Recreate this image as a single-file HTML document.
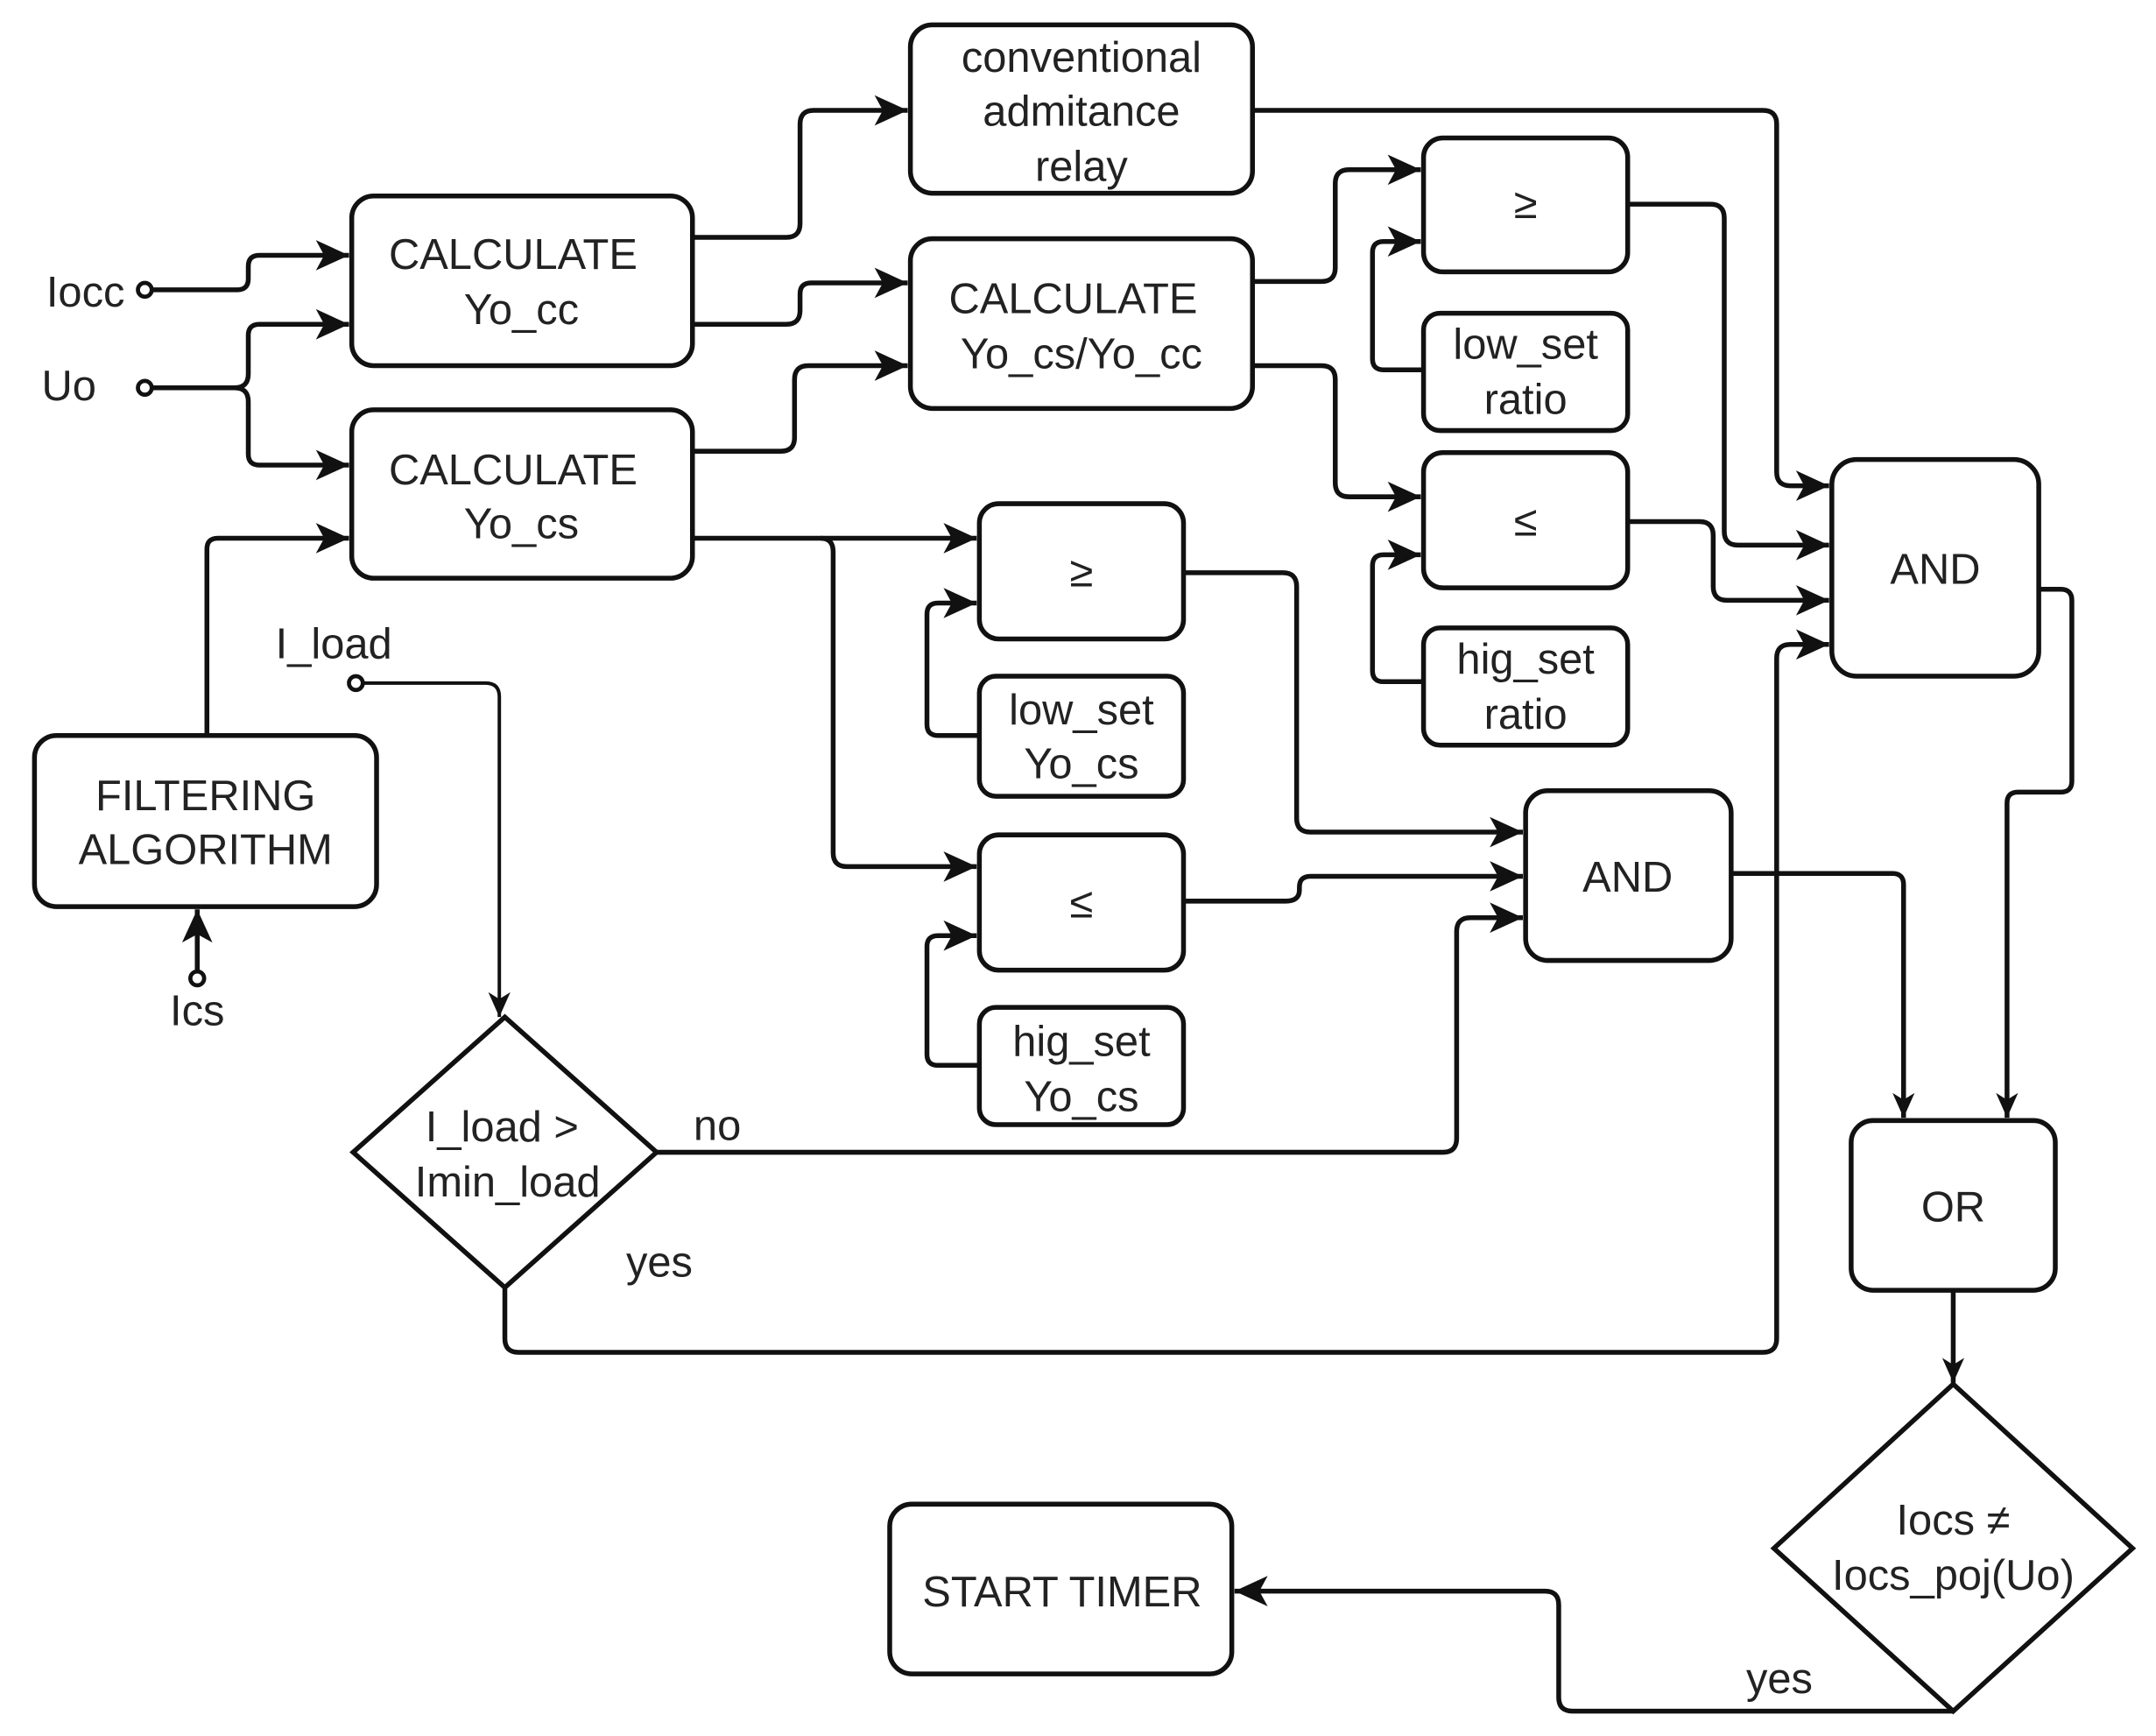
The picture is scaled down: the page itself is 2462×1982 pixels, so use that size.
<!DOCTYPE html>
<html><head><meta charset="utf-8"><style>
html,body{margin:0;padding:0;background:#fff;width:2462px;height:1982px;overflow:hidden}
svg{display:block}
text{font-family:"Liberation Sans",Arial,sans-serif;font-size:31px;fill:#222;text-anchor:middle}
.b{fill:#fff;stroke:#111;stroke-width:3.5}
.l{fill:none;stroke:#111;stroke-width:3.5;stroke-linejoin:round}
.t{fill:none;stroke:#111;stroke-width:2.5}
</style></head><body>
<svg width="2462" height="1982" viewBox="0 0 1563 1258" preserveAspectRatio="none">
<defs>
<marker id="a" markerUnits="userSpaceOnUse" markerWidth="26" markerHeight="24" refX="24" refY="12" orient="auto">
<path d="M0,1 L24,12 L0,23 L6,12 Z" fill="#111"/></marker>
<marker id="s" markerUnits="userSpaceOnUse" markerWidth="20" markerHeight="20" refX="18" refY="10" orient="auto">
<path d="M0,2 L18,10 L0,18 L5,10 Z" fill="#111"/></marker>
</defs>

<!-- boxes -->
<rect class="b" x="660" y="18" width="248" height="122" rx="16"/>
<rect class="b" x="255" y="142" width="247" height="123" rx="16"/>
<rect class="b" x="660" y="173" width="248" height="123" rx="16"/>
<rect class="b" x="255" y="297" width="247" height="122" rx="16"/>
<rect class="b" x="1032" y="100" width="148" height="97" rx="14"/>
<rect class="b" x="1032" y="227" width="148" height="85" rx="12"/>
<rect class="b" x="1032" y="328" width="148" height="98" rx="14"/>
<rect class="b" x="1032" y="455" width="148" height="85" rx="12"/>
<rect class="b" x="1328" y="333" width="150" height="157" rx="18"/>
<rect class="b" x="710" y="365" width="148" height="98" rx="14"/>
<rect class="b" x="710" y="490" width="148" height="87" rx="12"/>
<rect class="b" x="710" y="605" width="148" height="98" rx="14"/>
<rect class="b" x="710" y="730" width="148" height="85" rx="12"/>
<rect class="b" x="1106" y="573" width="149" height="123" rx="16"/>
<rect class="b" x="25" y="533" width="248" height="124" rx="16"/>
<rect class="b" x="1342" y="812" width="148" height="123" rx="16"/>
<rect class="b" x="645" y="1090" width="248" height="123" rx="16"/>
<path class="b" d="M366,737 L476,835 L366,933 L256,835 Z"/>
<path class="b" d="M1416,1003 L1546,1122 L1416,1240 L1286,1122 Z"/>

<!-- texts -->
<text x="784" y="52">conventional</text>
<text x="784" y="91">admitance</text>
<text x="784" y="131">relay</text>
<text x="372" y="195">CALCULATE</text>
<text x="378" y="235">Yo_cc</text>
<text x="778" y="227">CALCULATE</text>
<text x="784" y="267">Yo_cs/Yo_cc</text>
<text x="372" y="351">CALCULATE</text>
<text x="378" y="390">Yo_cs</text>
<text x="1106" y="158">≥</text>
<text x="1106" y="260">low_set</text>
<text x="1106" y="300">ratio</text>
<text x="1106" y="388">≤</text>
<text x="1106" y="488">hig_set</text>
<text x="1106" y="528">ratio</text>
<text x="1403" y="423">AND</text>
<text x="784" y="425">≥</text>
<text x="784" y="525">low_set</text>
<text x="784" y="564">Yo_cs</text>
<text x="784" y="665">≤</text>
<text x="784" y="765">hig_set</text>
<text x="784" y="805">Yo_cs</text>
<text x="1180" y="646">AND</text>
<text x="149" y="587">FILTERING</text>
<text x="149" y="626">ALGORITHM</text>
<text x="1416" y="885">OR</text>
<text x="770" y="1164">START TIMER</text>
<text x="364" y="827">I_load &gt;</text>
<text x="368" y="867">Imin_load</text>
<text x="1416" y="1112">Iocs ≠</text>
<text x="1416" y="1152">Iocs_poj(Uo)</text>
<text x="62" y="222">Iocc</text>
<text x="50" y="290">Uo</text>
<text x="242" y="477">I_load</text>
<text x="143" y="743">Ics</text>
<text x="520" y="826">no</text>
<text x="478" y="925">yes</text>
<text x="1290" y="1227">yes</text>

<!-- connectors -->
<path class="l" marker-end="url(#a)" d="M108,210 H172 Q180,210 180,202 V193 Q180,185 188,185 H253"/>
<path class="l" marker-end="url(#a)" d="M108,281 H170 Q180,281 180,271 V243 Q180,235 188,235 H253"/>
<path class="l" marker-end="url(#a)" d="M170,281 Q180,281 180,291 V329 Q180,337 188,337 H253"/>
<path class="l" marker-end="url(#a)" d="M150,533 V398 Q150,390 158,390 H253"/>
<path class="l" marker-end="url(#a)" d="M143,706 V659"/>
<path class="l" marker-end="url(#a)" d="M502,172 H570 Q580,172 580,162 V90 Q580,80 590,80 H658"/>
<path class="l" marker-end="url(#a)" d="M502,235 H570 Q580,235 580,225 V213 Q580,205 588,205 H658"/>
<path class="l" marker-end="url(#a)" d="M502,327 H566 Q576,327 576,317 V275 Q576,265 586,265 H658"/>
<path class="l" marker-end="url(#a)" d="M502,390 H708"/>
<path class="l" marker-end="url(#a)" d="M595,390 Q604,390 604,400 V618 Q604,628 614,628 H708"/>
<path class="l" marker-end="url(#a)" d="M710,533 H680 Q672,533 672,525 V445 Q672,437 680,437 H708"/>
<path class="l" marker-end="url(#a)" d="M710,772 H680 Q672,772 672,764 V686 Q672,678 680,678 H708"/>
<path class="l" marker-end="url(#a)" d="M858,415 H930 Q940,415 940,425 V593 Q940,603 950,603 H1104"/>
<path class="l" marker-end="url(#a)" d="M858,653 H932 Q942,653 942,645 V643 Q942,635 950,635 H1104"/>
<path class="l" marker-end="url(#a)" d="M476,835 H1046 Q1056,835 1056,825 V675 Q1056,665 1066,665 H1104"/>
<path class="l" marker-end="url(#a)" d="M908,80 H1278 Q1288,80 1288,90 V342 Q1288,352 1298,352 H1326"/>
<path class="l" marker-end="url(#a)" d="M908,204 H958 Q968,204 968,194 V133 Q968,123 978,123 H1030"/>
<path class="l" marker-end="url(#a)" d="M908,265 H958 Q968,265 968,275 V350 Q968,360 978,360 H1030"/>
<path class="l" marker-end="url(#a)" d="M1032,268 H1003 Q995,268 995,260 V183 Q995,175 1003,175 H1030"/>
<path class="l" marker-end="url(#a)" d="M1032,494 H1003 Q995,494 995,486 V410 Q995,402 1003,402 H1030"/>
<path class="l" marker-end="url(#a)" d="M1180,148 H1240 Q1250,148 1250,158 V385 Q1250,395 1260,395 H1326"/>
<path class="l" marker-end="url(#a)" d="M1180,378 H1232 Q1242,378 1242,388 V425 Q1242,435 1252,435 H1326"/>
<path class="l" marker-end="url(#a)" d="M366,933 V970 Q366,980 376,980 H1278 Q1288,980 1288,970 V477 Q1288,467 1298,467 H1326"/>
<path class="l" marker-end="url(#s)" d="M1478,427 H1494 Q1502,427 1502,435 V566 Q1502,574 1494,574 H1463 Q1455,574 1455,582 V810"/>
<path class="l" marker-end="url(#s)" d="M1255,633 H1372 Q1380,633 1380,641 V810"/>
<path class="t" marker-end="url(#s)" d="M262,495 H352 Q362,495 362,505 V737"/>
<path class="l" marker-end="url(#s)" d="M1416,935 V1002"/>
<path class="l" marker-end="url(#a)" d="M1416,1240 H1140 Q1130,1240 1130,1230 V1163 Q1130,1153 1120,1153 H895"/>

<!-- terminals -->
<circle cx="105" cy="210" r="5" fill="#fff" stroke="#111" stroke-width="3"/>
<circle cx="105" cy="281" r="5" fill="#fff" stroke="#111" stroke-width="3"/>
<circle cx="258" cy="495" r="5" fill="#fff" stroke="#111" stroke-width="3"/>
<circle cx="143" cy="709" r="5" fill="#fff" stroke="#111" stroke-width="3"/>
</svg>
</body></html>
